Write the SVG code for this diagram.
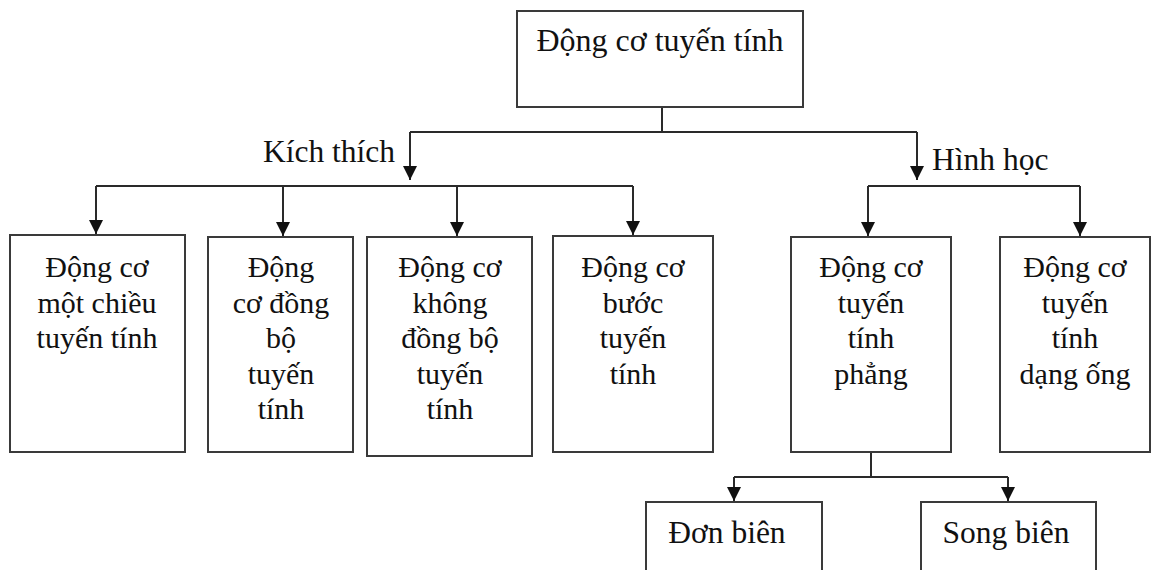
<svg xmlns="http://www.w3.org/2000/svg" width="1159" height="570" viewBox="0 0 1159 570">
<style>
.box{fill:#fff;stroke:#3a3a3a;stroke-width:2}
.t{font-family:"Liberation Serif","Times New Roman",serif;font-size:30px;fill:#111;text-anchor:middle}
.lbl{font-family:"Liberation Serif","Times New Roman",serif;font-size:31.5px;fill:#111}
.c{fill:none;stroke:#2a2a2a;stroke-width:2}
</style>
<defs>
<marker id="ah" viewBox="0 0 14 14" refX="14" refY="7" markerWidth="14" markerHeight="14" markerUnits="userSpaceOnUse" orient="auto">
<path d="M0,0 L14,7 L0,14 Z" fill="#111"/>
</marker>
</defs>
<rect width="1159" height="570" fill="#fff"/>
<g id="connectors">
<path class="c" d="M662,107 V132 M410,132 H917"/>
<path class="c" d="M410,132 V180" marker-end="url(#ah)"/>
<path class="c" d="M917,132 V180" marker-end="url(#ah)"/>
<path class="c" d="M96,186 H633"/>
<path class="c" d="M96,186 V234" marker-end="url(#ah)"/>
<path class="c" d="M283,186 V236" marker-end="url(#ah)"/>
<path class="c" d="M457,186 V236" marker-end="url(#ah)"/>
<path class="c" d="M633,186 V235" marker-end="url(#ah)"/>
<path class="c" d="M868,186 H1080"/>
<path class="c" d="M868,186 V236" marker-end="url(#ah)"/>
<path class="c" d="M1080,186 V236" marker-end="url(#ah)"/>
<path class="c" d="M871,452 V477 M734,477 H1008"/>
<path class="c" d="M734,477 V501" marker-end="url(#ah)"/>
<path class="c" d="M1008,477 V501" marker-end="url(#ah)"/>
<text class="lbl" x="263" y="162">Kích thích</text>
<text class="lbl" x="932" y="170">Hình học</text>
</g>
<g id="n0"><rect class="box" x="517" y="11" width="286" height="96"/><text class="t" x="660" y="51" style="font-size:32px">Động cơ tuyến tính</text></g>
<g id="n1"><rect class="box" x="10" y="235" width="175" height="217"/><text class="t" x="97" y="277">Động cơ<tspan x="97" dy="35.5">một chiều</tspan><tspan x="97" dy="35.5">tuyến tính</tspan></text></g>
<g id="n2"><rect class="box" x="208" y="237" width="145" height="215"/><text class="t" x="281" y="277">Động<tspan x="281" dy="35.5">cơ đồng</tspan><tspan x="281" dy="35.5">bộ</tspan><tspan x="281" dy="35.5">tuyến</tspan><tspan x="281" dy="35.5">tính</tspan></text></g>
<g id="n3"><rect class="box" x="367" y="237" width="165" height="219"/><text class="t" x="450" y="277">Động cơ<tspan x="450" dy="35.5">không</tspan><tspan x="450" dy="35.5">đồng bộ</tspan><tspan x="450" dy="35.5">tuyến</tspan><tspan x="450" dy="35.5">tính</tspan></text></g>
<g id="n4"><rect class="box" x="553" y="236" width="160" height="216"/><text class="t" x="633" y="277">Động cơ<tspan x="633" dy="35.5">bước</tspan><tspan x="633" dy="35.5">tuyến</tspan><tspan x="633" dy="35.5">tính</tspan></text></g>
<g id="n5"><rect class="box" x="791" y="237" width="160" height="215"/><text class="t" x="871" y="277">Động cơ<tspan x="871" dy="35.5">tuyến</tspan><tspan x="871" dy="35.5">tính</tspan><tspan x="871" dy="35.5">phẳng</tspan></text></g>
<g id="n6"><rect class="box" x="1000" y="237" width="150" height="215"/><text class="t" x="1075" y="277">Động cơ<tspan x="1075" dy="35.5">tuyến</tspan><tspan x="1075" dy="35.5">tính</tspan><tspan x="1075" dy="35.5">dạng ống</tspan></text></g>
<g id="n7"><rect class="box" x="646" y="502" width="176" height="80"/><text class="t" x="727" y="543" style="font-size:31.5px">Đơn biên</text></g>
<g id="n8"><rect class="box" x="921" y="502" width="175" height="80"/><text class="t" x="1006" y="543" style="font-size:31.5px">Song biên</text></g>
</svg>
